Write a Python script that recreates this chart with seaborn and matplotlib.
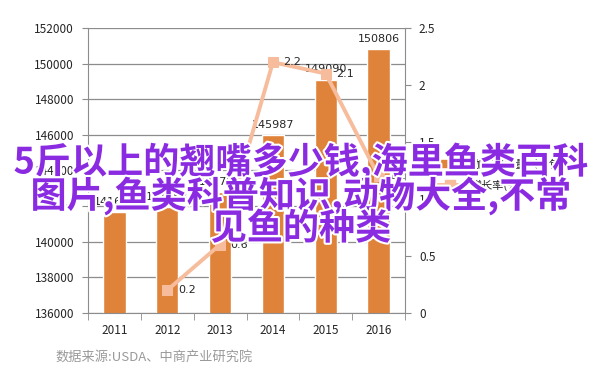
import numpy as np
import pandas as pd
import seaborn as sns
import matplotlib.pyplot as plt
import matplotlib.patheffects as pe
from matplotlib.lines import Line2D
from matplotlib.patches import Patch

years = ['2011', '2012', '2013', '2014', '2015', '2016']
consumption = [141655, 141953, 142796, 145987, 149090, 150806]
growth = [None, 0.2, 0.6, 2.2, 2.1, 1.2]
title_lines = ['5斤以上的翘嘴多少钱,海里鱼类百科',
               '图片,鱼类科普知识,动物大全,不常',
               '见鱼的种类']
source = '数据来源:USDA、中商产业研究院'

BAR = '#E0833A'
LINE = '#F6BC9C'
GRID = '#8C8C8C'


def main():
    sns.set_style('white')
    plt.rcParams['font.family'] = ['Noto Sans CJK SC', 'DejaVu Sans']

    df = pd.DataFrame({'year': years, 'cons': consumption, 'growth': growth})
    df['pos'] = np.arange(len(df))

    fig = plt.figure(figsize=(6.02, 3.84), dpi=100)
    ax = fig.add_axes([88 / 602, 1 - 313 / 384, (405 - 88) / 602, (313 - 28) / 384])

    sns.barplot(data=df, x='year', y='cons', color=BAR, width=0.42,
                saturation=1, ax=ax, zorder=2)
    ax.set_ylim(136000, 152000)
    ax.set_yticks(range(136000, 152001, 2000))
    ax.set_xlim(-0.5, 5.5)
    ax.yaxis.grid(True, color=GRID, lw=0.9)
    ax.set_axisbelow(True)
    ax.set_xlabel('')
    ax.set_ylabel('')
    for s in ['top', 'right']:
        ax.spines[s].set_visible(False)
    for s in ['left', 'bottom']:
        ax.spines[s].set_color(GRID)
    ax.tick_params(axis='y', left=True, length=4, color=GRID, labelsize=8.5,
                   pad=6)
    ax.tick_params(axis='x', which='major', length=0, labelsize=8.5, pad=8)
    ax.set_xticks(np.arange(-0.5, 6, 1), minor=True)
    ax.tick_params(axis='x', which='minor', length=5, color=GRID, bottom=True)
    for p, v in zip(df['pos'], df['cons']):
        ax.text(p, v + 300, str(v), ha='center', va='bottom', fontsize=8,
                family='DejaVu Sans', zorder=3)

    ax2 = ax.twinx()
    g = df.dropna(subset=['growth'])
    sns.lineplot(data=g, x='pos', y='growth', color=LINE, lw=2.8,
                 marker='s', markersize=7.5, markeredgecolor=LINE, ax=ax2,
                 zorder=4)
    ax2.set_ylim(0, 2.5)
    ax2.set_yticks([0, 0.5, 1, 1.5, 2, 2.5])
    ax2.set_yticklabels(['0', '0.5', '1', '1.5', '2', '2.5'])
    ax2.set_xlim(-0.5, 5.5)
    ax2.set_ylabel('')
    ax2.set_xlabel('')
    for s in ['top', 'left', 'bottom']:
        ax2.spines[s].set_visible(False)
    ax2.spines['right'].set_color(GRID)
    ax2.tick_params(axis='y', right=True, length=4, color=GRID, labelsize=8.5,
                    pad=6)
    for p, v in zip(g['pos'], g['growth']):
        ax2.text(p + 0.2, v, str(v), ha='left', va='center', fontsize=8,
                 family='DejaVu Sans', zorder=5)

    handles = [Patch(color=BAR),
               Line2D([], [], color=LINE, lw=2.8, marker='s', markersize=7.5)]
    fig.legend(handles, ['咖啡消费量（千包）', '增长率(%)'],
               loc='center left', bbox_to_anchor=(0.71, 0.545), frameon=False,
               fontsize=8, handlelength=2.2, labelspacing=0.9)

    fig.text(55 / 602, 1 - 358 / 384, source, fontsize=9.5, color='#9A9A9A',
             va='center', ha='left')

    ys = [162, 196, 229]
    for line, y in zip(title_lines, ys):
        fig.text(0.5, 1 - y / 384, line, ha='center', va='center',
                 fontsize=26, fontweight='bold', color='#8A2BE2',
                 path_effects=[pe.withStroke(linewidth=3, foreground='white')],
                 zorder=10)

    fig.savefig('out.png', dpi=100, facecolor='white')


if __name__ == '__main__':
    main()
